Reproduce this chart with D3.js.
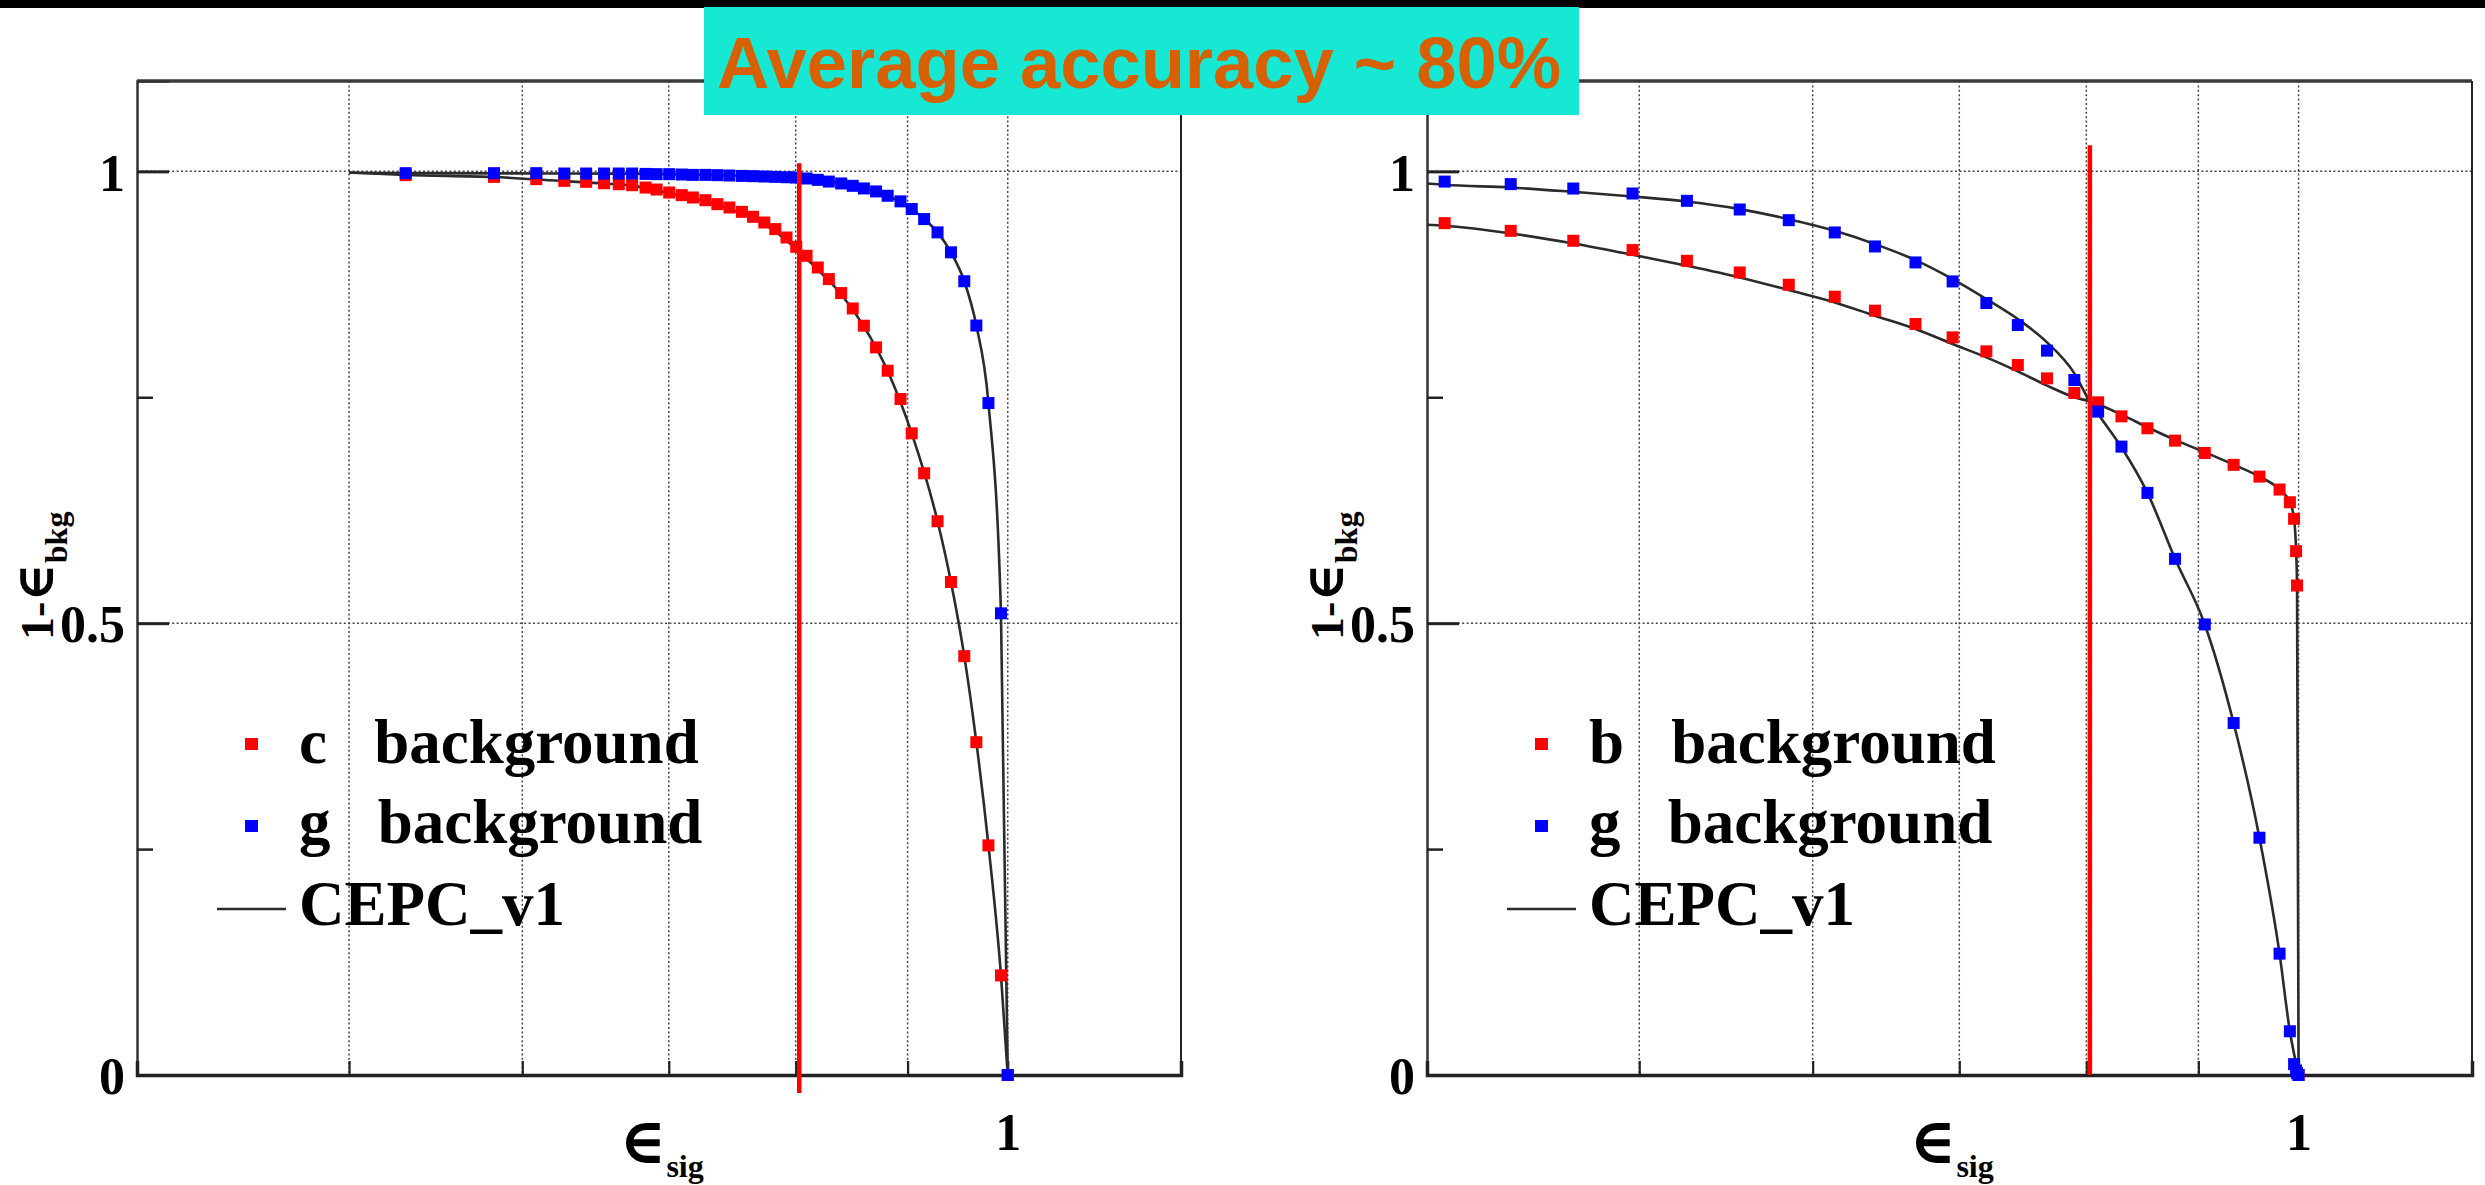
<!DOCTYPE html>
<html>
<head>
<meta charset="utf-8">
<script src="https://cdn.jsdelivr.net/npm/d3@7/dist/d3.min.js"></script>
<style>
  body { margin: 0; background: #fff; }
  svg { display: block; }
  .tl { font-family: "Liberation Serif", "Times New Roman", "DejaVu Serif", serif; font-weight: bold; }
  .sym { font-family: "DejaVu Serif", serif; font-weight: bold; }
</style>
</head>
<body>
<div id="chart"></div>
<script>
// ---- data ----
var titleText = "Average accuracy ~ 80%";

// left panel: eff_sig columns, 1-eff_bkg for c and g background
var leftSigEff = [0.5307,0.5824,0.6089,0.6271,0.6417,0.6539,0.6641,0.6735,0.6831,0.6911,
  0.7003,0.7096,0.7180,0.7275,0.7367,0.7461,0.7560,0.7649,0.7740,0.7830,
  0.7923,0.8005,0.8092,0.8188,0.8284,0.8392,0.8495,0.8595,0.8706,0.8813,
  0.8933,0.9039,0.9158,0.9288,0.9420,0.9553,0.9675,0.9799,0.9929,1.0];
var leftCBkg = [0.9958,0.9939,0.9914,0.9895,0.9884,0.9869,0.9858,0.9847,0.9821,0.9799,
  0.9766,0.9737,0.9711,0.9681,0.9637,0.9600,0.9552,0.9497,0.9434,0.9361,
  0.9268,0.9165,0.9066,0.8936,0.8808,0.8653,0.8483,0.8292,0.8052,0.7794,
  0.7481,0.7101,0.6659,0.6128,0.5456,0.4635,0.3683,0.2541,0.1102,0.0];
var leftGBkg = [0.9980,0.9980,0.9980,0.9976,0.9976,0.9976,0.9976,0.9976,0.9972,0.9969,
  0.9969,0.9965,0.9961,0.9961,0.9958,0.9954,0.9950,0.9947,0.9943,0.9939,
  0.9935,0.9932,0.9921,0.9906,0.9887,0.9866,0.9840,0.9811,0.9778,0.9730,
  0.9668,0.9583,0.9472,0.9325,0.9104,0.8784,0.8294,0.7436,0.5109,0.0];
// CEPC_v1 reference curves, left panel
var leftCLine = [[0.5,0.9987],[0.5307,0.9960],[0.5824,0.9937],[0.6271,0.9892],[0.6539,0.9866],
  [0.6735,0.9842],[0.6911,0.9792],[0.7096,0.9726],[0.7275,0.9668],[0.7461,0.9583],
  [0.7649,0.9478],[0.7830,0.9336],[0.8005,0.9140],[0.8188,0.8912],[0.8392,0.8640],
  [0.8595,0.8285],[0.8813,0.7790],[0.9039,0.7100],[0.9288,0.6128],[0.9420,0.5456],
  [0.9553,0.4635],[0.9675,0.3683],[0.9799,0.2541],[0.9929,0.1102],[1.0,0.0]];
var leftGLine = [[0.5,0.9985],[0.5307,0.9980],[0.6271,0.9976],[0.6735,0.9975],[0.7367,0.9958],
  [0.7923,0.9935],[0.8188,0.9905],[0.8392,0.9865],[0.8595,0.9811],[0.8813,0.9730],
  [0.9039,0.9583],[0.9158,0.9472],[0.9288,0.9325],[0.9420,0.9104],[0.9553,0.8784],
  [0.9675,0.8294],[0.9799,0.7436],[0.9929,0.5109],[1.0,0.0]];

// right panel: eff_sig columns, 1-eff_bkg for b and g background
var rightSigEff = [0.4075,0.4368,0.4665,0.4965,0.5257,0.5557,0.5851,0.6141,0.6406,0.6685,
  0.6951,0.7202,0.7444,0.7676,0.7900,0.8100,0.8301,0.8531,0.8782,0.9061,
  0.9340,0.9597,0.9802,0.9909,0.9953,0.9974,0.9984,1.0];
var rightBBkg = [0.9427,0.9342,0.9232,0.9129,0.9010,0.8881,0.8745,0.8613,0.8458,0.8311,
  0.8163,0.8008,0.7857,0.7709,0.7548,0.7444,0.7289,0.7157,0.7020,0.6884,
  0.6752,0.6622,0.6479,0.6338,0.6155,0.5797,0.5417,0.0];
var rightGBkg = [0.9887,0.9859,0.9810,0.9755,0.9674,0.9578,0.9460,0.9324,0.9169,0.8992,
  0.8782,0.8543,0.8299,0.8016,0.7691,0.7341,0.6954,0.6442,0.5712,0.4986,
  0.3895,0.2626,0.1343,0.0484,0.0120,0.0050,0.0020,0.0];
var rightBLine = [[0.4,0.9409],[0.4075,0.9398],[0.4368,0.9313],[0.4665,0.9202],[0.4965,0.9077],
  [0.5257,0.8955],[0.5557,0.8826],[0.5851,0.8686],[0.6141,0.8550],[0.6406,0.8402],
  [0.6685,0.8255],[0.6951,0.8089],[0.7202,0.7942],[0.7444,0.7787],[0.7676,0.7629],
  [0.7900,0.7500],[0.8028,0.7455],[0.8301,0.7308],[0.8531,0.7168],[0.8782,0.7028],
  [0.9061,0.6892],[0.9340,0.6755],[0.9597,0.6622],[0.9802,0.6479],[0.9909,0.6339],
  [0.9953,0.6155],[0.9974,0.5797],[0.9984,0.5417],[1.0,0.0]];
var rightGLine = [[0.4,0.9866],[0.4075,0.9851],[0.4368,0.9821],[0.4665,0.9773],[0.4965,0.9722],
  [0.5257,0.9666],[0.5557,0.9582],[0.5851,0.9471],[0.6141,0.9342],[0.6406,0.9195],
  [0.6685,0.9018],[0.6951,0.8808],[0.7202,0.8587],[0.7444,0.8366],[0.7676,0.8108],
  [0.7900,0.7765],[0.8028,0.7455],[0.8100,0.7315],[0.8301,0.6947],[0.8531,0.6442],
  [0.8782,0.5712],[0.9061,0.4986],[0.9340,0.3895],[0.9597,0.2626],[0.9802,0.1343],
  [0.9909,0.0484],[1.0,0.0]];

// working point (red vertical line)
var cutEff = 0.803;
var leftCutSpan = [-0.02, 1.009];
var rightCutSpan = [0.0, 1.029];

// axes
var xDomain = [0.4, 1.2];
var yDomain = [0, 1.1];
var xGridTicks = [0.5, 0.6, 0.7, 0.8, 0.9, 1];
var yMajorTicks = [0, 0.5, 1];
var yMinorTicks = [0.25, 0.75];
var yGridTicks = [0.5, 1];

var leftLegend = ["c   background", "g   background", "CEPC_v1"];
var rightLegend = ["b   background", "g   background", "CEPC_v1"];

// ---- drawing ----
var W = 2485, H = 1185;
var plotTop = 81, plotBottom = 1075;
var RED = "#ff0000", BLUE = "#0000ff", CURVE = "#2b2b2b";

var svg = d3.select("#chart").append("svg")
  .attr("width", W).attr("height", H);

svg.append("rect").attr("width", W).attr("height", H).attr("fill", "#fff");
svg.append("rect").attr("width", W).attr("height", 8).attr("fill", "#000");

var y = d3.scaleLinear().domain(yDomain).range([plotBottom, plotTop]);

var panels = [
  { x0: 137, x1: 1181, first: leftCBkg, second: leftGBkg, sig: leftSigEff,
    lines: [leftCLine, leftGLine], cut: leftCutSpan, legend: leftLegend },
  { x0: 1427, x1: 2472, first: rightBBkg, second: rightGBkg, sig: rightSigEff,
    lines: [rightBLine, rightGLine], cut: rightCutSpan, legend: rightLegend }
];

panels.forEach(function(p) {
  var x = d3.scaleLog().domain(xDomain).range([p.x0, p.x1]);
  var g = svg.append("g");

  // grid
  g.selectAll(".vg").data(xGridTicks).enter().append("line")
    .attr("x1", function(d) { return x(d); }).attr("x2", function(d) { return x(d); })
    .attr("y1", plotTop).attr("y2", plotBottom)
    .attr("stroke", "#444").attr("stroke-width", 1.5)
    .attr("stroke-dasharray", "2,2.4");
  g.selectAll(".hg").data(yGridTicks).enter().append("line")
    .attr("x1", p.x0).attr("x2", p.x1)
    .attr("y1", function(d) { return y(d); }).attr("y2", function(d) { return y(d); })
    .attr("stroke", "#444").attr("stroke-width", 1.5)
    .attr("stroke-dasharray", "2,2.4");

  // frame
  g.append("line").attr("x1", p.x0).attr("x2", p.x1).attr("y1", plotTop).attr("y2", plotTop)
    .attr("stroke", "#3a3a3a").attr("stroke-width", 3.5);
  g.append("line").attr("x1", p.x1).attr("x2", p.x1).attr("y1", plotTop).attr("y2", plotBottom)
    .attr("stroke", "#222").attr("stroke-width", 2);

  // y axis
  var yAxis = d3.axisLeft(y).tickValues(yMajorTicks).tickSize(-32).tickPadding(12)
    .tickFormat(function(d) { return d === 0 ? "0" : (d === 1 ? "1" : "0.5"); });
  var ya = g.append("g").attr("transform", "translate(" + p.x0 + ",0)").call(yAxis);
  ya.select(".domain").attr("stroke", "#333").attr("stroke-width", 2.5);
  ya.selectAll(".tick line").attr("stroke", "#222").attr("stroke-width", 3);
  ya.selectAll(".tick text").attr("class", "tl").attr("font-size", 52).attr("fill", "#000")
    .attr("dy", "0.36em");
  var yMinor = d3.axisLeft(y).tickValues(yMinorTicks).tickSize(-16).tickFormat("");
  var ym = g.append("g").attr("transform", "translate(" + p.x0 + ",0)").call(yMinor);
  ym.select(".domain").remove();
  ym.selectAll(".tick line").attr("stroke", "#222").attr("stroke-width", 2.5);

  // x axis
  var xAxis = d3.axisBottom(x).tickValues(xGridTicks).tickSize(-14).tickPadding(38)
    .tickFormat(function(d) { return d === 1 ? "1" : ""; });
  var xa = g.append("g").attr("transform", "translate(0," + plotBottom + ")").call(xAxis);
  xa.select(".domain").attr("stroke", "#222").attr("stroke-width", 3.5);
  xa.selectAll(".tick line").attr("stroke", "#222").attr("stroke-width", 2.2);
  xa.selectAll(".tick text").attr("class", "tl").attr("font-size", 52).attr("fill", "#000");

  // reference curves
  var line = d3.line().x(function(d) { return x(d[0]); }).y(function(d) { return y(d[1]); })
    .curve(d3.curveMonotoneX);
  g.selectAll(".ref").data(p.lines).enter().append("path")
    .attr("d", line).attr("fill", "none")
    .attr("stroke", CURVE).attr("stroke-width", 2.6);

  // markers
  var ms = 12;
  [[p.first, RED], [p.second, BLUE]].forEach(function(s) {
    g.selectAll(null).data(s[0]).enter().append("rect")
      .attr("x", function(d, i) { return x(p.sig[i]) - ms / 2; })
      .attr("y", function(d) { return y(d) - ms / 2; })
      .attr("width", ms).attr("height", ms)
      .attr("fill", s[1]);
  });

  // working point
  g.append("line")
    .attr("x1", x(cutEff)).attr("x2", x(cutEff))
    .attr("y1", y(p.cut[0])).attr("y2", y(p.cut[1]))
    .attr("stroke", RED).attr("stroke-width", 4.5);

  // legend
  var lx = p.x0;
  [RED, BLUE].forEach(function(c, i) {
    g.append("rect").attr("x", lx + 108).attr("y", [738, 820][i])
      .attr("width", 13).attr("height", 12).attr("fill", c);
  });
  g.append("line").attr("x1", lx + 80).attr("x2", lx + 149).attr("y1", 909).attr("y2", 909)
    .attr("stroke", CURVE).attr("stroke-width", 2.6);
  g.selectAll(".leg").data(p.legend).enter().append("text")
    .attr("class", "tl").attr("x", lx + 162)
    .attr("y", function(d, i) { return [763, 843, 925][i]; })
    .attr("font-size", 63).attr("fill", "#000")
    .style("white-space", "pre")
    .text(function(d) { return d; });

  // axis titles
  var xt = g.append("text").attr("class", "tl").attr("x", p.x0 + 482).attr("y", 1163)
    .attr("font-size", 48).attr("fill", "#000");
  xt.append("tspan").attr("class", "sym").attr("font-size", 64).text("\u2208");
  xt.append("tspan").attr("font-size", 32).attr("dy", 14).text("sig");

  var yt = g.append("text").attr("class", "tl")
    .attr("transform", "translate(" + (p.x0 - 84) + ",640) rotate(-90)")
    .attr("font-size", 46).attr("fill", "#000");
  yt.append("tspan").text("1-");
  yt.append("tspan").attr("class", "sym").attr("font-size", 52).text("\u2208");
  yt.append("tspan").attr("font-size", 32).attr("dy", 14).text("bkg");
});

// title banner
svg.append("rect").attr("x", 704).attr("y", 7).attr("width", 875).attr("height", 108)
  .attr("fill", "#17e8d4");
svg.append("text").attr("x", 717).attr("y", 88)
  .attr("font-family", "'Liberation Sans', Arial, sans-serif").attr("font-weight", "bold")
  .attr("font-size", 72).attr("fill", "#d76000")
  .attr("textLength", 844).attr("lengthAdjust", "spacingAndGlyphs")
  .text(titleText);
</script>
</body>
</html>
